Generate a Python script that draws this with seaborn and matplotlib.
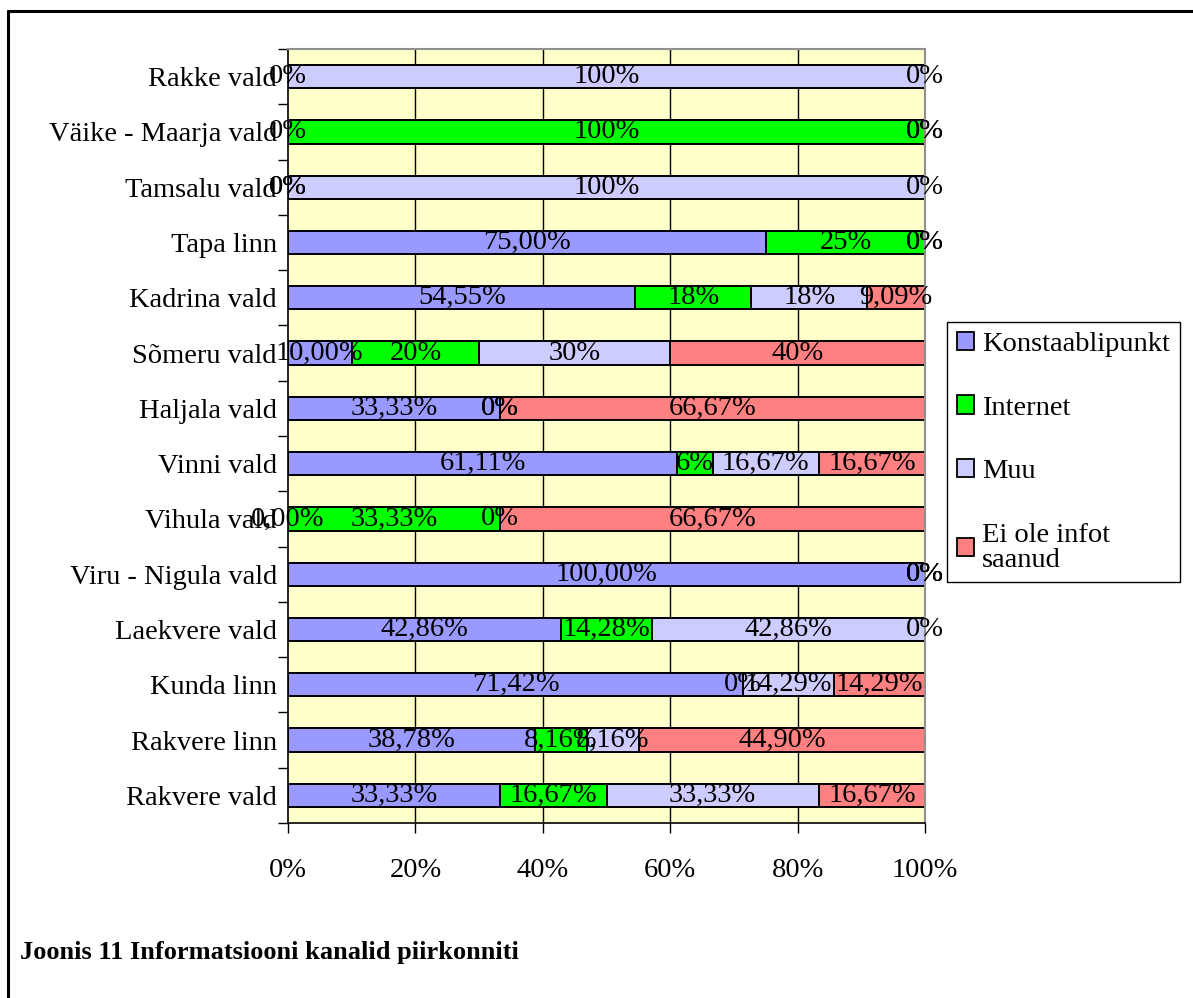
import numpy as np
import pandas as pd
import seaborn as sns
import matplotlib.pyplot as plt
from matplotlib.patches import Patch
from matplotlib.lines import Line2D

# data (top to bottom as shown)
vallad = ['Rakke vald', 'Väike - Maarja vald', 'Tamsalu vald', 'Tapa linn',
          'Kadrina vald', 'Sõmeru vald', 'Haljala vald', 'Vinni vald',
          'Vihula vald', 'Viru - Nigula vald', 'Laekvere vald', 'Kunda linn',
          'Rakvere linn', 'Rakvere vald']
konstaablipunkt = [0, 0, 0, 75.00, 54.55, 10.00, 33.33, 61.11, 0, 100.00, 42.86, 71.42, 38.78, 33.33]
internet = [0, 100, 0, 25, 18.18, 20, 0, 5.56, 33.33, 0, 14.28, 0, 8.16, 16.67]
muu = [100, 0, 100, 0, 18.18, 30, 0, 16.67, 0, 0, 42.86, 14.29, 8.16, 33.33]
ei_ole = [0, 0, 0, 0, 9.09, 40, 66.67, 16.67, 66.67, 0, 0, 14.29, 44.90, 16.67]

# data labels as printed in the chart
lab_konst = ['0%', '0%', '0%', '75,00%', '54,55%', '10,00%', '33,33%', '61,11%', '0,00%', '100,00%', '42,86%', '71,42%', '38,78%', '33,33%']
lab_int = ['', '100%', '0%', '25%', '18%', '20%', '0%', '6%', '33,33%', '0%', '14,28%', '0%', '8,16%', '16,67%']
lab_muu = ['100%', '0%', '100%', '0%', '18%', '30%', '0%', '16,67%', '0%', '0%', '42,86%', '14,29%', '8,16%', '33,33%']
lab_ei = ['0%', '0%', '0%', '0%', '9,09%', '40%', '66,67%', '16,67%', '66,67%', '0%', '0%', '14,29%', '44,90%', '16,67%']

series = ['Konstaablipunkt', 'Internet', 'Muu', 'Ei ole infot\nsaanud']
colors = ['#9999FF', '#00FF00', '#CCCCFF', '#FF8080']

df = pd.DataFrame({'vald': vallad, 'k': konstaablipunkt, 'i': internet,
                   'm': muu, 'e': ei_ole})
vals = df[['k', 'i', 'm', 'e']].to_numpy(dtype=float)
vals = vals / vals.sum(axis=1, keepdims=True) * 100
cum = np.cumsum(vals, axis=1)
for j, c in enumerate(['c1', 'c2', 'c3', 'c4']):
    df[c] = cum[:, j]

sns.set_style('white')
plt.rcParams['font.family'] = ['Liberation Serif', 'DejaVu Serif']
plt.rcParams['text.color'] = 'black'
plt.rcParams['xtick.color'] = 'black'
plt.rcParams['ytick.color'] = 'black'
plt.rcParams['axes.labelcolor'] = 'black'
fs = 20.5

fig = plt.figure(figsize=(11.93, 9.98), dpi=100)
ax = fig.add_axes([288 / 1193, 1 - 823 / 998, (925 - 288) / 1193, (823 - 49) / 998])
ax.set_facecolor('#FFFFCC')

# stacked bars: draw cumulative totals from the longest down
for c, col in zip(['c4', 'c3', 'c2', 'c1'], colors[::-1]):
    sns.barplot(data=df, x=c, y='vald', order=vallad, orient='h', color=col,
                edgecolor='black', linewidth=1.4, width=0.42, saturation=1, ax=ax)

# data labels
labels = [lab_konst, lab_int, lab_muu, lab_ei]
for j in range(4):
    for r in range(len(vallad)):
        txt = labels[j][r]
        if not txt:
            continue
        left = cum[r, j] - vals[r, j]
        ax.text(left + vals[r, j] / 2, r, txt, ha='center', va='center',
                fontsize=fs, color='black', zorder=5)

ax.set_xlim(0, 100)
ax.set_ylim(len(vallad) - 0.5, -0.5)
ax.set_xticks([0, 20, 40, 60, 80, 100])
ax.set_xticklabels(['0%', '20%', '40%', '60%', '80%', '100%'])
ax.set_xlabel('')
ax.set_ylabel('')
ax.set_axisbelow(True)
for xv in [20, 40, 60, 80]:
    ax.axvline(xv, color='black', linewidth=1, zorder=0)

ax.tick_params(axis='x', which='major', length=7, width=1, direction='out',
               pad=18, labelsize=fs, bottom=True, color='black')
ax.tick_params(axis='y', which='major', length=0, pad=8, labelsize=fs)
ax.set_yticks(np.arange(-0.5, len(vallad), 1), minor=True)
ax.tick_params(axis='y', which='minor', length=7, width=1, direction='out', left=True,
               color='black')

for s in ['left', 'bottom']:
    ax.spines[s].set_color('black')
    ax.spines[s].set_linewidth(1.2)
for s in ['top', 'right']:
    ax.spines[s].set_color('#909090')
    ax.spines[s].set_linewidth(1.5)

handles = [Patch(facecolor=c, edgecolor='black', linewidth=1.3) for c in colors]
leg = fig.legend(handles, series, loc='upper left',
                 bbox_to_anchor=(947 / 1193, 1 - 322 / 998),
                 fontsize=fs, frameon=True, fancybox=False, framealpha=1,
                 edgecolor='black', handlelength=0.6, handleheight=0.6,
                 handletextpad=0.28, labelspacing=1.35, borderpad=0.35,
                 borderaxespad=0)
leg.get_frame().set_linewidth(1)
for t in leg.get_texts():
    t.set_linespacing(1.0)

fig.text(20 / 1193, 1 - 953 / 998, 'Joonis 11 Informatsiooni kanalid piirkonniti',
         fontsize=19, fontweight='bold', ha='left', va='center')

# outer frame (top and left)
fig.add_artist(Line2D([8 / 1193, 1], [1 - 11 / 998, 1 - 11 / 998], color='black',
                      linewidth=2.2, transform=fig.transFigure))
fig.add_artist(Line2D([8 / 1193, 8 / 1193], [0, 1 - 11 / 998], color='black',
                      linewidth=2.2, transform=fig.transFigure))

fig.savefig('out.png', dpi=100)
